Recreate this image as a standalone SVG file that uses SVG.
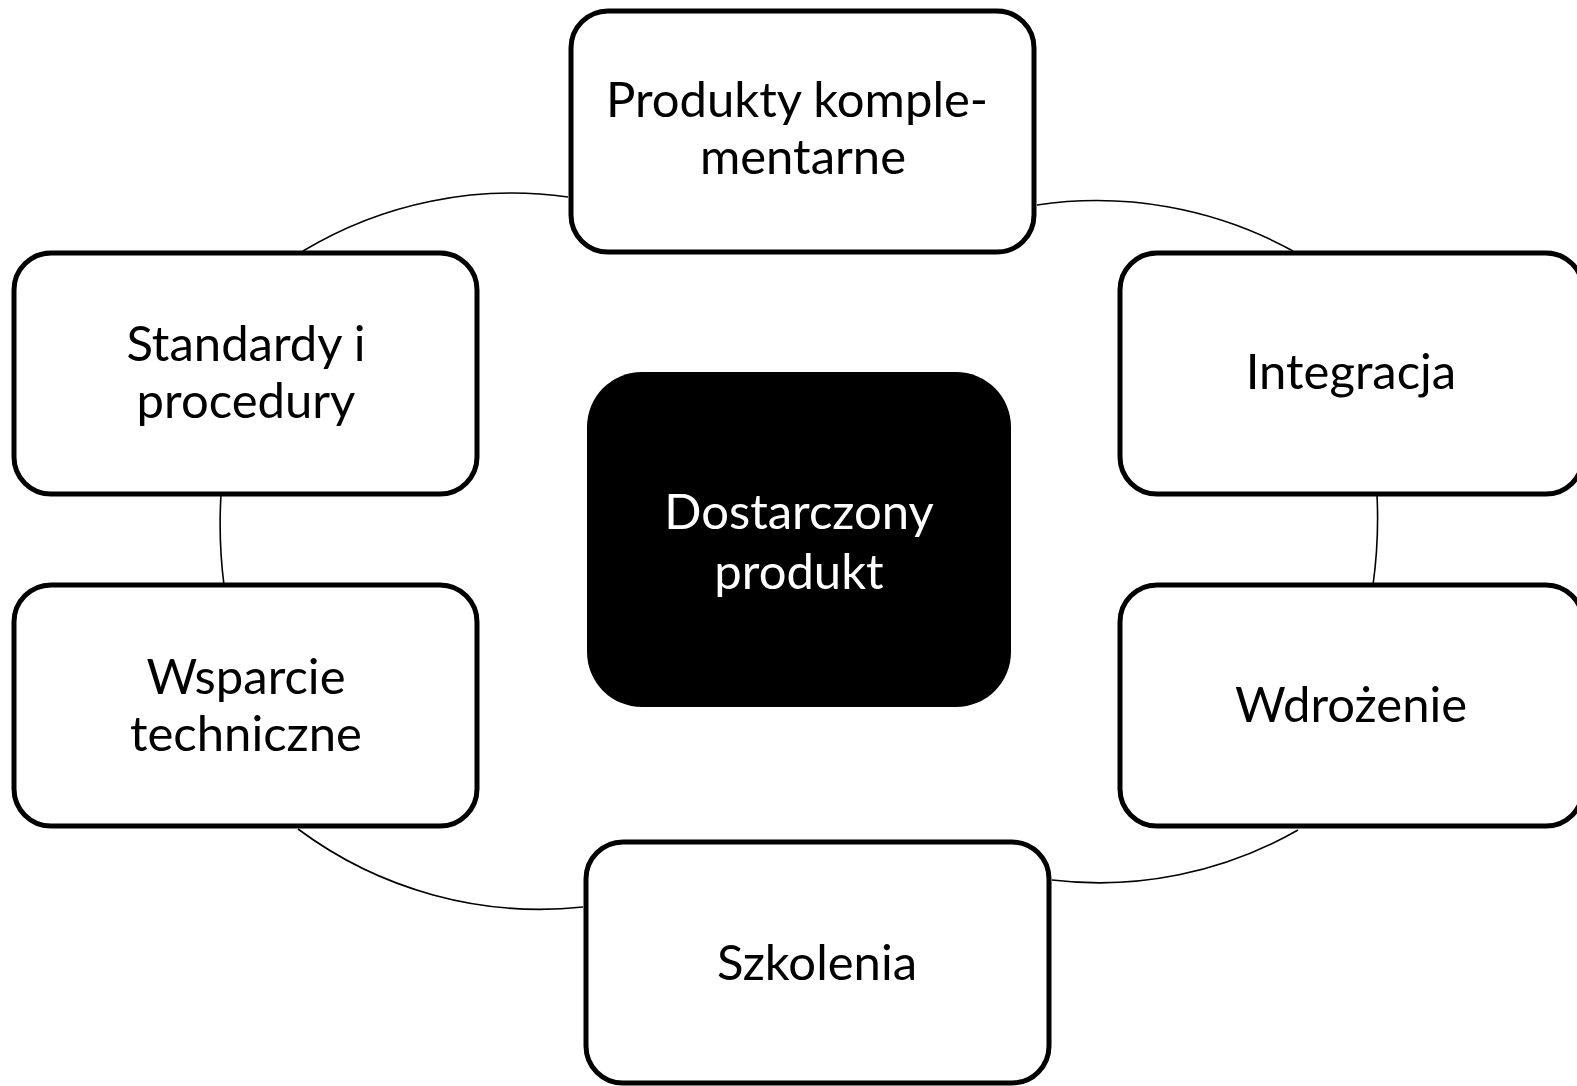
<svg xmlns="http://www.w3.org/2000/svg" width="1577" height="1086" viewBox="0 0 1577 1086">
<style>
.box{fill:#fff;stroke:#000;stroke-width:5}
.core{fill:#000}
.lbl{font-family:Lato,"Noto Sans","Liberation Sans",sans-serif;font-size:49px;fill:#000;text-anchor:middle}
.lblw{font-family:Lato,"Noto Sans","Liberation Sans",sans-serif;font-size:49px;fill:#fff;text-anchor:middle}
.arc{fill:none;stroke:#000;stroke-width:1.6}
</style>
<rect width="1577" height="1086" fill="#fff"/>
<g id="connectors">
<path class="arc" d="M303,251 A404,404 0 0 1 568,197"/>
<path class="arc" d="M1037,205 A407,407 0 0 1 1293,251"/>
<path class="arc" d="M221,495 A480,480 0 0 0 224,585"/>
<path class="arc" d="M1377,495 A480,480 0 0 1 1373,585"/>
<path class="arc" d="M298,829 A405,405 0 0 0 583,907"/>
<path class="arc" d="M1052,880 A400,400 0 0 0 1298,830"/>
</g>
<g id="node-produkty">
<rect class="box" x="571" y="11" width="463" height="241" rx="37"/>
<text class="lbl" x="797" y="117">Produkty komple-</text>
<text class="lbl" x="803" y="174">mentarne</text>
</g>
<g id="node-standardy">
<rect class="box" x="14" y="253" width="463" height="241" rx="37"/>
<text class="lbl" x="246" y="361">Standardy i</text>
<text class="lbl" x="246" y="418">procedury</text>
</g>
<g id="node-integracja">
<rect class="box" x="1120" y="253" width="463" height="241" rx="37"/>
<text class="lbl" x="1351" y="389">Integracja</text>
</g>
<g id="node-wsparcie">
<rect class="box" x="14" y="585" width="463" height="241" rx="37"/>
<text class="lbl" x="246" y="694">Wsparcie</text>
<text class="lbl" x="246" y="751">techniczne</text>
</g>
<g id="node-wdrozenie">
<rect class="box" x="1120" y="585" width="463" height="241" rx="37"/>
<text class="lbl" x="1351" y="722">Wdrożenie</text>
</g>
<g id="node-szkolenia">
<rect class="box" x="586" y="842" width="463" height="241" rx="37"/>
<text class="lbl" x="817" y="980">Szkolenia</text>
</g>
<g id="node-center">
<rect class="core" x="587" y="372" width="424" height="335" rx="55"/>
<text class="lblw" x="799" y="529">Dostarczony</text>
<text class="lblw" x="799" y="589">produkt</text>
</g>
</svg>
